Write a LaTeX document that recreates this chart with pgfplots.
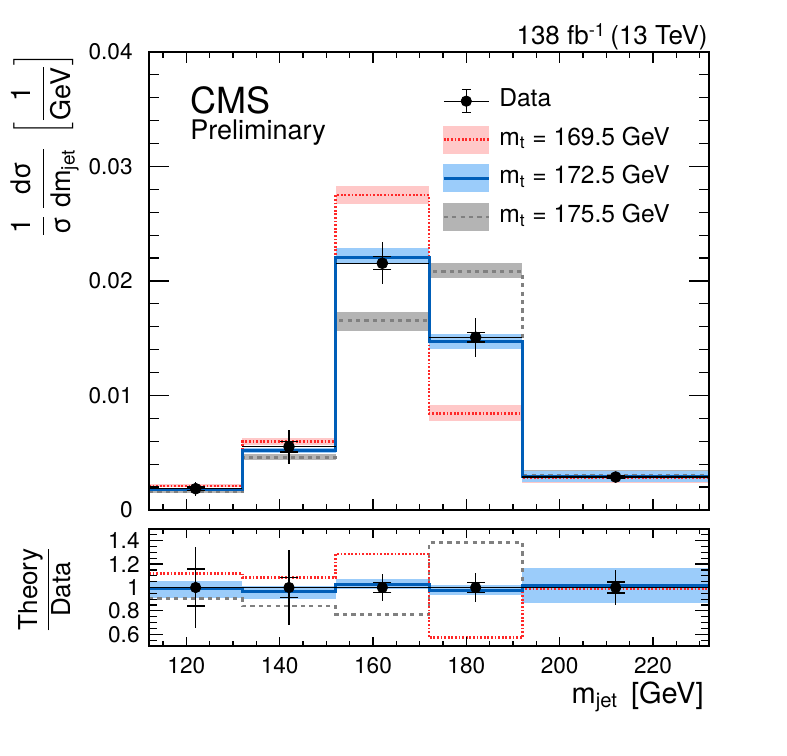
\documentclass[border=0pt]{standalone}
\usepackage{fontspec}
\setmainfont{TeX Gyre Heros}
\usepackage{pgfplots}
\usepackage{pgfplotstable}
\pgfplotsset{compat=1.18}

\definecolor{redline}{RGB}{255,40,40}
\definecolor{redband}{RGB}{255,200,200}
\definecolor{blueline}{RGB}{0,94,184}
\definecolor{blueband}{RGB}{155,204,250}
\definecolor{grayline}{RGB}{128,128,128}
\definecolor{grayband}{RGB}{180,180,180}

\tikzset{
  redsty/.style={draw=redline, line width=1.2pt, dash pattern=on 0.9pt off 0.9pt},
  bluesty/.style={draw=blueline, line width=1.5pt},
  graysty/.style={draw=grayline, line width=1.25pt, dash pattern=on 2.1pt off 2.1pt},
}

% data: x, y, half bin width, total unc., stat unc.
\pgfplotstableread{
x   y       ex  et       es
122 0.00186 10  0.00062  0.00015
142 0.00553 10  0.00150  0.00047
162 0.02155 10  0.00183  0.00058
182 0.01508 10  0.00172  0.00041
212 0.00288 20  0.00022  0.00010
}\datamain

\pgfplotstableread{
x   y  ex  et     es
122 1  10  0.347  0.158
142 1  10  0.318  0.083
162 1  10  0.118  0.040
182 1  10  0.121  0.040
212 1  20  0.147  0.047
}\dataratio

% band rectangle: colour, x1, x2, low, high
\newcommand{\band}[5]{\addplot[fill=#1, draw=none, forget plot] coordinates {(#2,#4) (#3,#4) (#3,#5) (#2,#5)} -- cycle;}

\pgfplotsset{
  cmsaxis/.style={
    scale only axis, width=280pt,
    xmin=112, xmax=232,
    clip=false, axis on top,
    axis line style={line width=0.6pt},
    tick align=inside,
    tick pos=both, ticklabel pos=left,
    every tick/.style={black, line width=0.6pt},
    xtick={120,140,160,180,200,220},
    minor xtick={115,120,...,230},
    tick label style={font=\fontsize{11.3}{13}\selectfont, /pgf/number format/assume math mode=true},
  }
}

\begin{document}
\begin{tikzpicture}
\begin{axis}[cmsaxis, name=main, at={(0,0)}, anchor=south west, height=229pt,
  ymin=0, ymax=0.04, ytick={0,0.01,0.02,0.03,0.04}, minor y tick num=4,
  scaled y ticks=false,
  yticklabel style={/pgf/number format/fixed, /pgf/number format/precision=2, inner xsep=0pt, xshift=-8pt},
  xticklabels={},
  xtick style={/pgfplots/major tick length=5.5pt, /pgfplots/minor tick length=3pt},
  ytick style={/pgfplots/major tick length=10pt, /pgfplots/minor tick length=5pt},
  legend style={draw=none, fill=none, at={(0.523,0.923)}, anchor=north west,
    font=\fontsize{12.3}{14}\selectfont, row sep=5.5pt, column sep=4.5pt, inner sep=0pt,
    nodes={inner sep=0pt, text height=9.5pt, text depth=4pt}},
  legend cell align=left,
]
\addlegendimage{legend image code/.code={
  \draw[black, line width=0.6pt] (0pt,0pt) -- (22.5pt,0pt);
  \draw[black, line width=0.6pt] (11.25pt,-5.75pt) -- (11.25pt,5.75pt);
  \draw[black, line width=0.6pt] (9pt,5.75pt) -- (13.5pt,5.75pt);
  \draw[black, line width=0.6pt] (9pt,-5.75pt) -- (13.5pt,-5.75pt);
  \fill[black] (11.25pt,0pt) circle (2.6pt);}}
\addlegendentry{Data}
\addlegendimage{legend image code/.code={
  \fill[redband] (0pt,-6.75pt) rectangle (22.5pt,6.75pt);
  \draw[redsty] (0pt,0pt) -- (22.5pt,0pt);}}
\addlegendentry{m\textsubscript{t} = 169.5 GeV}
\addlegendimage{legend image code/.code={
  \fill[blueband] (0pt,-6.75pt) rectangle (22.5pt,6.75pt);
  \draw[bluesty] (0pt,0pt) -- (22.5pt,0pt);}}
\addlegendentry{m\textsubscript{t} = 172.5 GeV}
\addlegendimage{legend image code/.code={
  \fill[grayband] (0pt,-6.75pt) rectangle (22.5pt,6.75pt);
  \draw[graysty] (0pt,0pt) -- (22.5pt,0pt);}}
\addlegendentry{m\textsubscript{t} = 175.5 GeV}

% gray bands (175.5)
\band{grayband}{112}{132}{0.00146}{0.00175}
\band{grayband}{132}{152}{0.00437}{0.00489}
\band{grayband}{152}{172}{0.01566}{0.01732}
\band{grayband}{172}{192}{0.02024}{0.02154}
\band{grayband}{192}{232}{0.00255}{0.00350}
% red bands (169.5)
\band{redband}{112}{132}{0.00198}{0.00226}
\band{redband}{132}{152}{0.00570}{0.00630}
\band{redband}{152}{172}{0.02670}{0.02830}
\band{redband}{172}{192}{0.00780}{0.00917}
\band{redband}{192}{232}{0.00240}{0.00330}
% blue bands (172.5)
\band{blueband}{112}{132}{0.00172}{0.00194}
\band{blueband}{132}{152}{0.00498}{0.00545}
\band{blueband}{152}{172}{0.02146}{0.02286}
\band{blueband}{172}{192}{0.01403}{0.01534}
\band{blueband}{192}{232}{0.00247}{0.00343}

\addplot[graysty, const plot, forget plot] coordinates {(112,0.00160) (132,0.00460) (152,0.01653) (172,0.02081) (192,0.00300) (232,0.00300)};
\addplot[redsty, const plot, forget plot] coordinates {(112,0.00212) (132,0.00597) (152,0.02750) (172,0.00844) (192,0.00285) (232,0.00285)};
\addplot[bluesty, const plot, forget plot] coordinates {(112,0.00183) (132,0.00520) (152,0.02207) (172,0.01470) (192,0.00295) (232,0.00295)};

\addplot[forget plot, only marks, mark=*, mark size=2.7pt, black, mark options={fill=black},
  error bars/.cd, x dir=both, x explicit, y dir=both, y explicit, error mark=none,
  error bar style={line width=0.6pt, black}]
  table[x=x, y=y, x error=ex, y error=et] {\datamain};
\addplot[forget plot, only marks, mark=-, mark size=4.5pt, mark options={line width=0.6pt, black}]
  table[x=x, y expr=\thisrow{y}+\thisrow{es}] {\datamain};
\addplot[forget plot, only marks, mark=-, mark size=4.5pt, mark options={line width=0.6pt, black}]
  table[x=x, y expr=\thisrow{y}-\thisrow{es}] {\datamain};
\end{axis}

\begin{axis}[cmsaxis, name=ratio, at={(0,-9.5pt)}, anchor=north west, height=58.5pt,
  ymin=0.5, ymax=1.5, ytick={0.6,0.8,1,1.2,1.4},
  minor ytick={0.5,0.55,0.65,0.7,0.75,0.85,0.9,0.95,1.05,1.1,1.15,1.25,1.3,1.35,1.45},
  yticklabel style={inner xsep=0pt, xshift=-4.5pt},
  xticklabel style={inner ysep=0pt, yshift=-5.3pt},
  xtick style={/pgfplots/major tick length=4.5pt, /pgfplots/minor tick length=2.5pt},
  ytick style={/pgfplots/major tick length=7pt, /pgfplots/minor tick length=4pt},
]
\band{blueband}{112}{132}{0.913}{1.056}
\band{blueband}{132}{152}{0.900}{1.010}
\band{blueband}{152}{172}{0.985}{1.070}
\band{blueband}{172}{192}{0.933}{1.019}
\band{blueband}{192}{232}{0.870}{1.164}

\addplot[graysty, const plot, forget plot] coordinates {(112,0.908) (132,0.842) (152,0.771) (172,1.386) (192,1.020) (232,1.020)};
\addplot[redsty, const plot, forget plot] coordinates {(112,1.121) (132,1.084) (152,1.286) (172,0.571) (192,0.985) (232,0.985)};
\addplot[bluesty, const plot, forget plot] coordinates {(112,0.995) (132,0.970) (152,1.027) (172,0.976) (192,1.019) (232,1.019)};

\addplot[forget plot, only marks, mark=*, mark size=2.6pt, black, mark options={fill=black},
  error bars/.cd, x dir=both, x explicit, y dir=both, y explicit, error mark=none,
  error bar style={line width=0.6pt, black}]
  table[x=x, y=y, x error=ex, y error=et] {\dataratio};
\addplot[forget plot, only marks, mark=-, mark size=4.5pt, mark options={line width=0.6pt, black}]
  table[x=x, y expr=\thisrow{y}+\thisrow{es}] {\dataratio};
\addplot[forget plot, only marks, mark=-, mark size=4.5pt, mark options={line width=0.6pt, black}]
  table[x=x, y expr=\thisrow{y}-\thisrow{es}] {\dataratio};
\end{axis}

% labels and annotations
\node[anchor=base east, font=\fontsize{13}{15}\selectfont, inner sep=0pt] at ([xshift=-0.5pt, yshift=3.5pt]main.north east) {138 fb\textsuperscript{-1}\,(13 TeV)};
\node[anchor=base west, font=\fontsize{18}{20}\selectfont, inner sep=0pt] at ([xshift=20.5pt, yshift=-31pt]main.north west) {CMS};
\node[anchor=base west, font=\fontsize{13.5}{15}\selectfont, inner sep=0pt] at ([xshift=20.5pt, yshift=-44pt]main.north west) {Preliminary};
\node[rotate=90, anchor=east, inner sep=0pt, font=\fontsize{13.5}{15}\selectfont] at ([xshift=-52pt, yshift=-0.5pt]main.north west)
  {$\displaystyle\frac{\mbox{1}}{\mbox{σ}}\,\frac{\mbox{dσ}}{\mbox{dm\textsubscript{jet}}}\;\left[\frac{\mbox{1}}{\mbox{GeV}}\right]$};
\node[rotate=90, anchor=center, inner sep=0pt, font=\fontsize{13}{15}\selectfont] at ([xshift=-52pt, yshift=-1pt]ratio.west)
  {$\displaystyle\frac{\mbox{Theory}}{\mbox{Data}}$};
\node[anchor=base east, inner sep=0pt, font=\fontsize{14.5}{16}\selectfont] at ([xshift=-2.5pt, yshift=-28.5pt]ratio.south east)
  {m\textsubscript{jet}\hspace{0.45em}[GeV]};

\path (-74.5pt,-122.5pt) rectangle (319pt,255pt);
\end{tikzpicture}
\end{document}
